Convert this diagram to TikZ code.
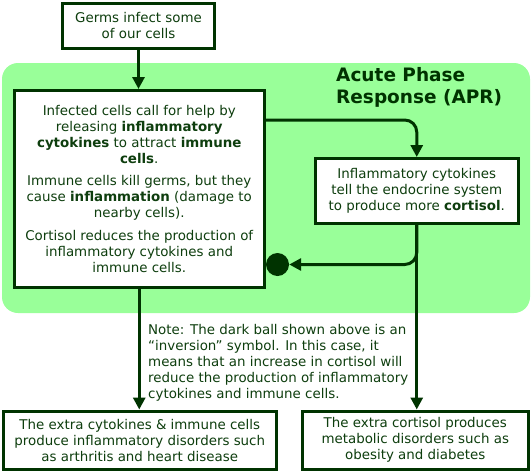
\documentclass[tikz,border=0pt]{standalone}
\usepackage{fontspec}
\setmainfont{DejaVu Sans}
\usetikzlibrary{arrows.meta}
\definecolor{dk}{HTML}{003300}
\definecolor{txt}{HTML}{0E3E0E}
\definecolor{apr}{HTML}{99FF99}
\begin{document}
\begin{tikzpicture}[x=1pt,y=-1pt,
  box/.style={draw=dk, line width=3pt, fill=white, align=center, inner sep=0pt, text=txt, font=\fontsize{13.4}{16}\selectfont},
  arr/.style={draw=dk, line width=3pt, -{Triangle[length=12pt,width=12pt]}},
  ]
\useasboundingbox (0,0) rectangle (532,472);
\fill[apr, rounded corners=16pt] (2,63) rectangle (530,313);
\node[font=\fontsize{18.5}{22}\selectfont\bfseries, text=dk, align=left, anchor=west, inner sep=0pt] (title) at (336,87) {Acute Phase\\Response (APR)};
\node[box, minimum width=152pt, minimum height=45pt] (top) at (138.5,26) {Germs infect some\\of our cells};
\node[box, minimum width=249.5pt, minimum height=196.5pt] (main) at (139.25,188.75) {Infected cells call for help by\\releasing \textbf{inflammatory}\\\textbf{cytokines} to attract \textbf{immune}\\\textbf{cells}.\\[6pt]Immune cells kill germs, but they\\cause \textbf{inflammation} (damage to\\nearby cells).\\[7pt]Cortisol reduces the production of\\inflammatory cytokines and\\immune cells.};
\node[box, minimum width=202.5pt, minimum height=64.5pt] (rbox) at (416.75,190.75) {Inflammatory cytokines\\tell the endocrine system\\to produce more \textbf{cortisol}.};
\node[box, minimum width=272.5pt, minimum height=58.5pt] (bl) at (139.75,440.25) {The extra cytokines \& immune cells\\produce inflammatory disorders such\\as arthritis and heart disease};
\node[box, minimum width=225.5pt, minimum height=58.5pt] (br) at (415.25,440.25) {The extra cortisol produces\\metabolic disorders such as\\obesity and diabetes};
\node[anchor=north west, align=left, inner sep=0pt, text=txt, font=\fontsize{13.4}{16}\selectfont] (note) at (148,324) {Note: The dark ball shown above is an\\“inversion” symbol. In this case, it\\means that an increase in cortisol will\\reduce the production of inflammatory\\cytokines and immune cells.};
\node[circle, fill=dk, minimum size=23pt, inner sep=0pt] (ball) at (277.5,264.5) {};
\coordinate (yrow) at (0,120);
\draw[arr] (top.south) -- (top.south |- main.north);
\draw[arr, rounded corners=12pt] (main.east |- yrow) -| (rbox.north);
\draw[arr, rounded corners=12pt] (rbox.south) |- (ball.east);
\draw[arr] (rbox.south) -- (rbox.south |- br.north);
\draw[arr] (main.south) -- (main.south |- bl.north);
\end{tikzpicture}
\end{document}
